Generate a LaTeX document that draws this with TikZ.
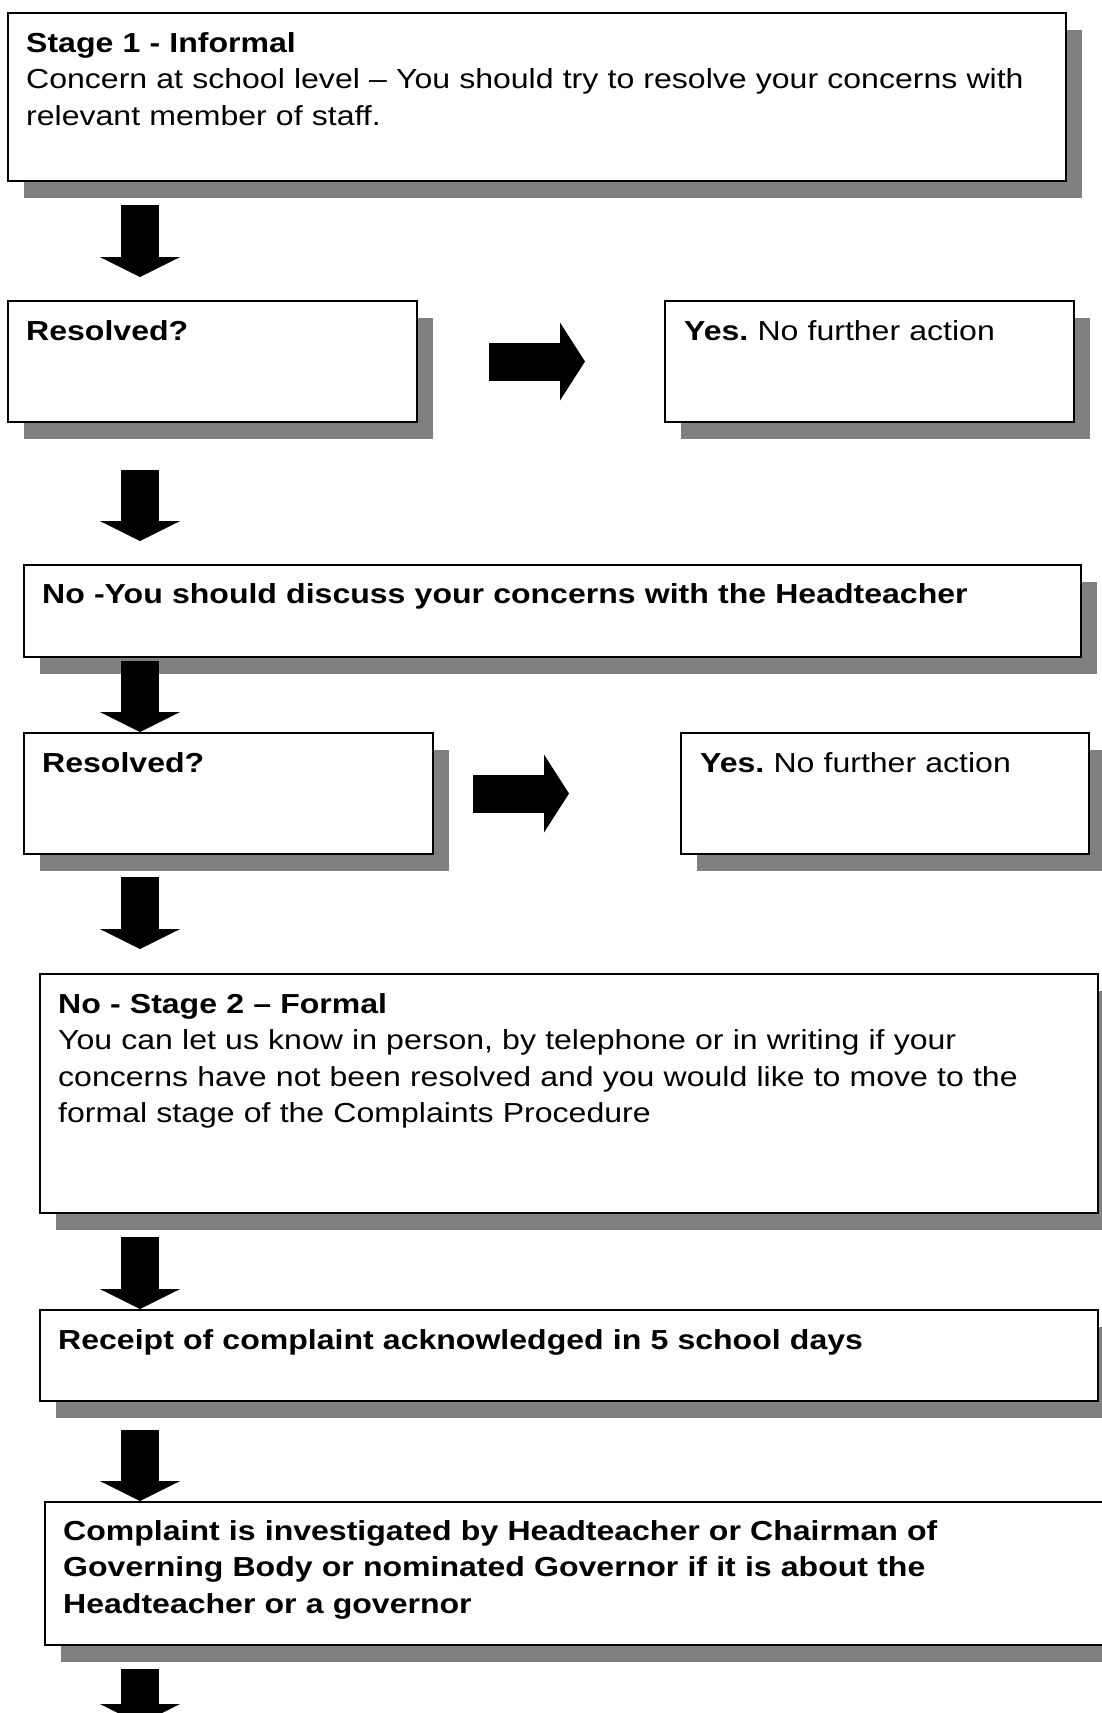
\documentclass[tikz,border=0pt]{standalone}
\usepackage{fontspec}
\setmainfont{Liberation Sans}[FakeStretch=1.165]
\usetikzlibrary{arrows.meta, positioning, shadows}

\begin{document}
\begin{tikzpicture}[
      x=1pt, y=-1pt,
      box/.style = {draw, line width=2pt, fill=white, anchor=north west,
                    inner sep=0pt,
                    drop shadow={shadow xshift=16pt, shadow yshift=-17pt,
                                 fill=black!50, opacity=1}},
      wide box/.style = {box, minimum width=1058pt},
      small box/.style = {box, minimum width=409pt, minimum height=121pt},
      txt/.style = {anchor=base west, inner sep=0pt, align=left,
                    text width=1000pt,
                    font=\fontsize{27.5}{36.5}\selectfont\frenchspacing},
      down/.style = {line width=38pt,
                     -{Triangle[width=80pt, length=20pt, line width=0pt]}},
      across/.style = {line width=38pt,
                       -{Triangle[width=78pt, length=25pt, line width=0pt]}},
    ]
    \useasboundingbox (0,0) rectangle (1102,1713);

    %% Stage 1 and the first question
    \node [wide box, minimum height=168pt] (stage1) at (7,12) {};
    \node [txt] (stage1 text) at ([shift={(19,40)}]stage1.north west)
      {\textbf{Stage 1 - Informal}\\
       Concern at school level – You should try to resolve your concerns with\\
       relevant member of staff.};

    \node [small box] (res1) at (7,300) {};
    \node [txt] (res1 text) at ([shift={(19,40)}]res1.north west)
      {\textbf{Resolved?}};
    \node [small box] (yes1) at (664,300) {};
    \node [txt] (yes1 text) at ([shift={(20,40)}]yes1.north west)
      {\textbf{Yes.} No further action};

    %% Talk to the Headteacher
    \node [wide box, minimum width=1057pt, minimum height=92pt] (head) at (23,564) {};
    \node [txt] (head text) at ([shift={(19,39)}]head.north west)
      {\textbf{No -You should discuss your concerns with the Headteacher}};

    \node [small box] (res2) at (23,732) {};
    \node [txt] (res2 text) at ([shift={(19,40)}]res2.north west)
      {\textbf{Resolved?}};
    \node [small box, minimum width=408pt] (yes2) at (680,732) {};
    \node [txt] (yes2 text) at ([shift={(20,40)}]yes2.north west)
      {\textbf{Yes.} No further action};

    %% Stage 2
    \node [wide box, minimum height=239pt] (stage2) at (39,973) {};
    \node [txt] (stage2 text) at ([shift={(19,40)}]stage2.north west)
      {\textbf{No - Stage 2 – Formal}\\
       You can let us know in person, by telephone or in writing if your\\
       concerns have not been resolved and you would like to move to the\\
       formal stage of the Complaints Procedure};

    \node [wide box, minimum height=91pt] (receipt) at (39,1309) {};
    \node [txt] (receipt text) at ([shift={(19,40)}]receipt.north west)
      {\textbf{Receipt of complaint acknowledged in 5 school days}};

    \node [wide box, minimum height=143pt] (complaint) at (44,1501) {};
    \node [txt] (complaint text) at ([shift={(19,39)}]complaint.north west)
      {\textbf{Complaint is investigated by Headteacher or Chairman of}\\
       \textbf{Governing Body or nominated Governor if it is about the}\\
       \textbf{Headteacher or a governor}};

    %% Block arrows down the left side
    \coordinate (spine) at (140,0);
    \coordinate (next) at (140,1724);
    \draw [down, shorten <=23pt, shorten >=23pt] (stage1.south -| spine) -- (res1.north -| spine);
    \draw [down, shorten <=47pt, shorten >=23pt] (res1.south -| spine) -- (head.north -| spine);
    \draw [down, shorten <=3pt] (head.south -| spine) -- (res2.north -| spine);
    \draw [down, shorten <=22pt, shorten >=24pt] (res2.south -| spine) -- (stage2.north -| spine);
    \draw [down, shorten <=23pt] (stage2.south -| spine) -- (receipt.north -| spine);
    \draw [down, shorten <=28pt] (receipt.south -| spine) -- (complaint.north -| spine);
    \draw [down, shorten <=23pt] (complaint.south -| spine) -- (next);

    %% Block arrows to the ``Yes'' boxes
    \draw [across, shorten <=71pt, shorten >=79pt] (res1) -- (yes1);
    \draw [across, shorten <=39pt, shorten >=111pt] (res2) -- (yes2);
  \end{tikzpicture}
\end{document}
